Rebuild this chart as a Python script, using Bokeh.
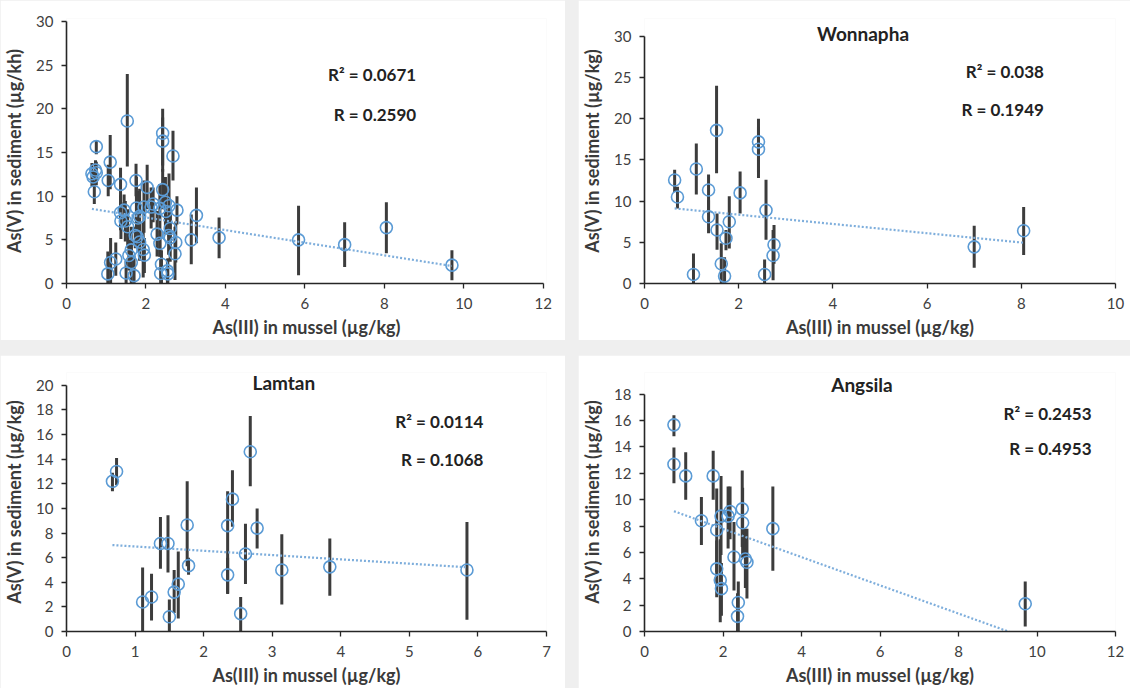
from bokeh.plotting import figure
from bokeh.layouts import row, column
from bokeh.models import Range1d, Label, FixedTicker
from bokeh.embed import file_html
from bokeh.resources import INLINE

# ---------------- data ----------------
# Wonnapha
won_x = [0.64, 0.70, 1.10, 1.04, 1.36, 1.36, 1.53, 1.54, 1.63, 1.70, 1.73, 1.80, 2.03, 2.42, 2.42, 2.58, 2.55, 2.75, 2.73, 7.00, 8.05]
won_y = [12.57, 10.5, 13.9, 1.1, 11.35, 8.1, 18.6, 6.5, 2.4, 0.9, 5.5, 7.5, 11.0, 17.2, 16.3, 8.9, 1.1, 4.7, 3.4, 4.45, 6.4]
won_lo = [11.1, 9.1, 10.8, 0.0, 8.5, 6.1, 13.4, 4.1, 0.0, 0.0, 4.05, 4.25, 8.5, 12.8, 13.5, 5.3, 0.0, 2.4, 0.4, 1.9, 3.45]
won_hi = [13.8, 11.75, 17.0, 3.65, 13.25, 10.1, 24.0, 8.5, 4.9, 3.2, 6.5, 10.6, 13.6, 20.0, 19.0, 12.6, 2.9, 7.1, 6.5, 7.0, 9.3]

# Lamtan
lam_x = [0.67, 0.73, 1.11, 1.24, 1.37, 1.48, 1.50, 1.57, 1.63, 1.76, 1.78, 2.35, 2.35, 2.42, 2.54, 2.61, 2.68, 2.78, 3.14, 3.84, 5.84]
lam_y = [12.2, 13.0, 2.4, 2.8, 7.15, 7.15, 1.2, 3.2, 3.85, 8.65, 5.35, 8.6, 4.6, 10.75, 1.45, 6.3, 14.6, 8.4, 5.0, 5.25, 5.0]
lam_lo = [11.4, 11.9, 0.0, 0.9, 5.1, 4.8, 0.0, 1.5, 1.05, 5.3, 4.6, 3.05, 3.1, 8.5, 0.0, 3.85, 11.8, 6.75, 2.2, 2.9, 0.95]
lam_hi = [12.9, 14.1, 5.2, 4.7, 9.3, 9.45, 2.6, 5.0, 6.5, 12.2, 6.0, 11.4, 6.0, 13.1, 2.8, 8.75, 17.5, 10.0, 7.9, 7.55, 8.9]

# Angsila
ang_x = [0.75, 0.75, 1.05, 1.45, 1.75, 1.84, 1.84, 1.93, 1.96, 1.95, 2.13, 2.18, 2.28, 2.39, 2.37, 2.49, 2.50, 2.57, 2.61, 3.27, 9.70]
ang_y = [15.67, 12.68, 11.8, 8.4, 11.8, 7.7, 4.75, 3.9, 3.25, 8.75, 8.75, 9.1, 5.65, 2.2, 1.15, 9.3, 8.25, 5.5, 5.25, 7.8, 2.1]
ang_lo = [14.8, 11.25, 10.0, 6.55, 10.0, 4.5, 2.6, 0.7, 1.2, 5.8, 6.3, 7.0, 3.1, 0.0, 0.0, 6.4, 5.6, 3.3, 2.5, 4.6, 0.37]
ang_hi = [16.4, 13.95, 13.6, 10.2, 13.7, 10.85, 6.9, 7.0, 5.2, 11.8, 11.0, 11.0, 8.3, 3.8, 2.9, 12.2, 10.9, 7.8, 7.8, 11.0, 3.8]

# all sites together (top-left panel)
all_x = won_x + lam_x + ang_x
all_y = won_y + lam_y + ang_y
all_lo = won_lo + lam_lo + ang_lo
all_hi = won_hi + lam_hi + ang_hi

# linear trend lines (end points)
all_trend_x = [0.64, 9.70]
all_trend_y = [8.54, 2.0]
won_trend_x = [0.64, 8.05]
won_trend_y = [9.12, 4.95]
lam_trend_x = [0.67, 5.84]
lam_trend_y = [7.02, 5.22]
ang_trend_x = [0.75, 9.70]
ang_trend_y = [9.12, -0.46]

titles = ["", "Wonnapha", "Lamtan", "Angsila"]
r2_texts = ["R² = 0.0671", "R² = 0.038", "R² = 0.0114", "R² = 0.2453"]
r_texts = ["R = 0.2590", "R = 0.1949", "R = 0.1068", "R = 0.4953"]
y_labels = ["As(V) in sediment (µg/kh)", "As(V) in sediment (µg/kg)",
            "As(V) in sediment (µg/kg)", "As(V) in sediment (µg/kg)"]
x_label = "As(III) in mussel (µg/kg)"

FONT = "Lato"
TXT = "#3a3a3a"
BLUE = "#5b9bd5"


def panel(x, y, lo, hi, tx, ty, xmax, xstep, ymax, ystep, xview, yview, w, h, borders,
          title, title_pos, r2, r, rpos, ylab):
    left, right, top, bottom = borders
    p = figure(width=w, height=h, x_range=Range1d(0, xview), y_range=Range1d(0, yview),
               output_backend="svg", toolbar_location=None,
               min_border_left=left, min_border_right=right,
               min_border_top=top, min_border_bottom=bottom)
    p.xgrid.visible = False
    p.ygrid.visible = False
    p.outline_line_color = None
    p.background_fill_color = "white"
    p.border_fill_color = "white"

    p.xaxis.ticker = FixedTicker(ticks=list(range(0, xmax + 1, xstep)))
    p.yaxis.ticker = FixedTicker(ticks=list(range(0, ymax + 1, ystep)))
    p.xaxis.bounds = (0, xmax)
    p.yaxis.bounds = (0, ymax)
    for ax in (p.xaxis[0], p.yaxis[0]):
        ax.axis_line_color = "#262626"
        ax.axis_line_width = 1.6
        ax.major_tick_line_color = "#262626"
        ax.major_tick_line_width = 1.3
        ax.major_tick_out = 5
        ax.major_tick_in = 0
        ax.minor_tick_line_color = None
        ax.major_label_text_font = FONT
        ax.major_label_text_font_size = "15px"
        ax.major_label_text_color = "#404040"
        ax.axis_label_text_font = FONT
        ax.axis_label_text_font_size = "18px"
        ax.axis_label_text_font_style = "bold"
        ax.axis_label_text_color = TXT
    p.xaxis.axis_label = x_label
    p.yaxis.axis_label = ylab
    p.xaxis.major_label_standoff = 9
    p.xaxis.axis_label_standoff = 4
    p.yaxis.major_label_standoff = 8
    p.yaxis.axis_label_standoff = 8

    # error bars
    p.segment(x0=x, y0=lo, x1=x, y1=hi, line_color="#3c3c3c", line_width=3)
    # trend line
    p.line(tx, ty, line_color="#7eaedc", line_width=2.2, line_dash="2 2")
    # markers
    p.scatter(x, y, marker="circle", size=12, fill_color=None,
              line_color=BLUE, line_width=1.6)

    if title:
        p.add_layout(Label(x=title_pos[0], y=title_pos[1], text=title,
                           text_font=FONT, text_font_size="19px", text_font_style="bold",
                           text_color="#222222", text_align="center",
                           text_baseline="middle"))
    p.add_layout(Label(x=rpos[0], y=rpos[1], text=r2, text_font=FONT,
                       text_font_size="17px", text_font_style="bold",
                       text_color="#222222", text_align="right", text_baseline="middle"))
    p.add_layout(Label(x=rpos[0], y=rpos[2], text=r, text_font=FONT,
                       text_font_size="17px", text_font_style="bold",
                       text_color="#222222", text_align="right", text_baseline="middle"))
    return p


B1 = (63, 19, 18, 56)   # left, right, top, bottom
B2 = (61, 15, 18, 56)
B3 = (63, 19, 17, 52)
B4 = (61, 15, 17, 52)

p1 = panel(all_x, all_y, all_lo, all_hi, all_trend_x, all_trend_y, 12, 2, 30, 5,
           12.08, 30.34, 565, 340, B1, titles[0], None, r2_texts[0], r_texts[0],
           (8.8, 23.9, 19.3), y_labels[0])
p2 = panel(won_x, won_y, won_lo, won_hi, won_trend_x, won_trend_y, 10, 2, 30, 5,
           10.0, 32.18, 552, 340, B2, titles[1], (4.64, 30.35), r2_texts[1], r_texts[1],
           (8.48, 25.7, 21.1), y_labels[1])
p3 = panel(lam_x, lam_y, lam_lo, lam_hi, lam_trend_x, lam_trend_y, 7, 1, 20, 2,
           7.0, 21.04, 565, 333, B3, titles[2], (3.17, 20.26), r2_texts[2], r_texts[2],
           (6.08, 17.1, 14.0), y_labels[2])
p4 = panel(ang_x, ang_y, ang_lo, ang_hi, ang_trend_x, ang_trend_y, 12, 2, 18, 2,
           12.0, 19.64, 552, 333, B4, titles[3], (5.54, 18.7), r2_texts[3], r_texts[3],
           (11.39, 16.5, 13.85), y_labels[3])

layout = column(row(p1, p2, spacing=13), row(p3, p4, spacing=13), spacing=15,
                styles={"background-color": "#efefef"})

open("out.html", "w").write(file_html(layout, INLINE))
